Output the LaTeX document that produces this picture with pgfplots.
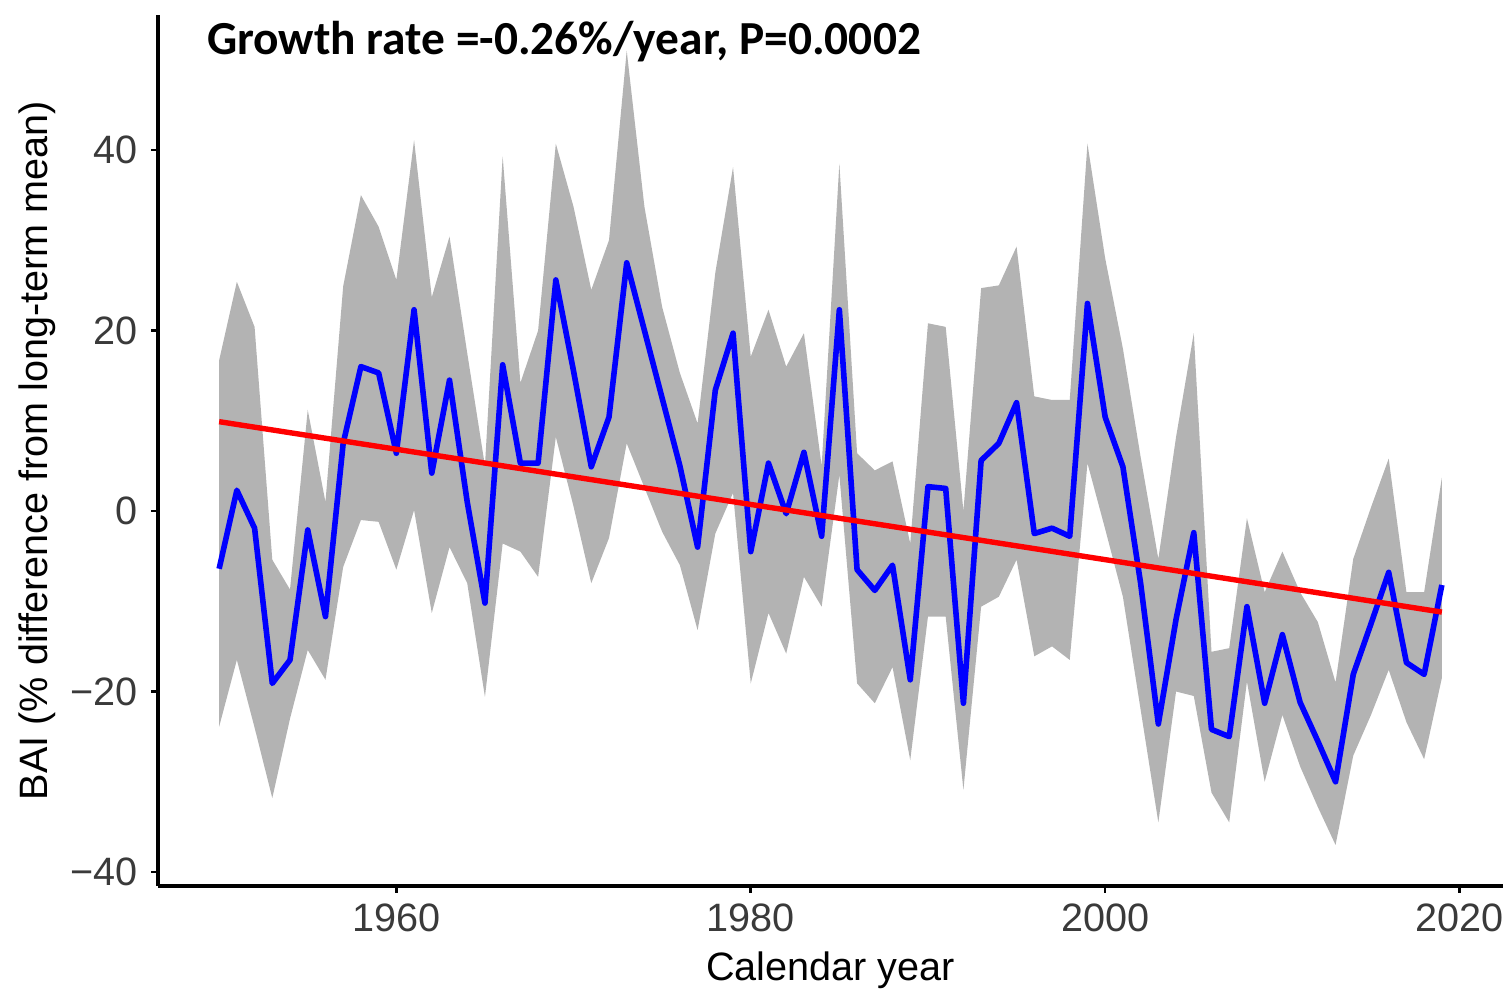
\documentclass[border=0pt]{standalone}
\usepackage{fontspec}
\setmainfont{Liberation Sans}
\newfontfamily\titlefont{Carlito}
\usepackage{pgfplots}
\usepackage{pgfplotstable}
\pgfplotsset{compat=1.18}
\usepgfplotslibrary{fillbetween}
\definecolor{band}{HTML}{B3B3B3}
\definecolor{ticklab}{HTML}{3A3A3A}

\pgfplotstableread{
year mid lo hi
1950 -6.4 -23.9 16.7
1951 2.3 -16.5 25.4
1952 -1.9 -24.0 20.4
1953 -19.1 -31.8 -5.4
1954 -16.5 -23.0 -8.7
1955 -2.1 -15.4 11.2
1956 -11.7 -18.7 1.0
1957 7.5 -6.2 24.9
1958 16.0 -1.0 35.0
1959 15.3 -1.2 31.5
1960 6.4 -6.5 25.6
1961 22.3 0.1 41.1
1962 4.2 -11.3 23.7
1963 14.5 -4.0 30.4
1964 1.0 -8.0 17.5
1965 -10.2 -20.6 5.0
1966 16.2 -3.6 39.3
1967 5.3 -4.5 14.2
1968 5.3 -7.3 20.0
1969 25.6 8.2 40.7
1970 15.5 0.5 33.7
1971 4.9 -8.0 24.5
1972 10.4 -3.0 30.0
1973 27.5 7.5 51.0
1974 20.0 2.6 33.7
1975 12.5 -2.3 22.6
1976 5.0 -6.0 15.3
1977 -4.0 -13.2 9.7
1978 13.4 -2.5 26.4
1979 19.7 2.0 38.1
1980 -4.5 -19.1 17.1
1981 5.3 -11.3 22.3
1982 -0.3 -15.8 16.0
1983 6.5 -7.3 19.7
1984 -2.8 -10.6 5.0
1985 22.3 4.0 38.5
1986 -6.5 -19.1 6.4
1987 -8.8 -21.3 4.5
1988 -6.0 -17.3 5.5
1989 -18.7 -27.6 -3.6
1990 2.7 -11.7 20.8
1991 2.5 -11.7 20.4
1992 -21.3 -30.9 0.0
1993 5.6 -10.6 24.7
1994 7.5 -9.5 25.0
1995 12.0 -5.4 29.3
1996 -2.5 -16.1 12.7
1997 -1.9 -15.0 12.3
1998 -2.8 -16.5 12.3
1999 23.0 5.3 40.7
2000 10.4 -2.0 28.0
2001 4.9 -9.5 18.0
2002 -8.0 -22.0 6.0
2003 -23.6 -34.5 -5.3
2004 -12.0 -20.0 8.2
2005 -2.4 -20.5 19.7
2006 -24.2 -31.2 -15.6
2007 -25.0 -34.5 -15.2
2008 -10.6 -18.9 -0.8
2009 -21.3 -30.0 -9.0
2010 -13.7 -22.6 -4.5
2011 -21.2 -28.3 -9.0
2012 -25.5 -32.8 -12.3
2013 -30.0 -37.0 -19.0
2014 -18.1 -27.1 -5.3
2015 -12.5 -22.6 0.4
2016 -6.8 -17.6 5.8
2017 -16.8 -23.4 -9.0
2018 -18.1 -27.5 -9.0
2019 -8.2 -18.5 3.7
}\bai

\begin{document}
\begin{tikzpicture}
\begin{axis}[
  at={(79pt,52pt)}, anchor=south west,
  scale only axis, width=672.5pt, height=435.5pt,
  xmin=1946.55, xmax=2022.45, ymin=-41.55, ymax=54.96,
  axis x line*=bottom, axis y line*=left,
  axis line style={line width=2pt, black},
  xtick={1960,1980,2000,2020}, xticklabels={1960,1980,2000,2020},
  ytick={-40,-20,0,20,40}, yticklabels={−40,−20,0,20,40},
  tick align=outside, major tick length=3.5pt,
  tick style={black, line width=1.3pt},
  ticklabel style={font=\fontsize{19.8}{23}\selectfont, text=ticklab},
  xticklabel style={yshift=-2pt},
  yticklabel style={xshift=-3pt},
  xlabel={Calendar year},
  ylabel={BAI (\% difference from long-term mean)},
  label style={font=\fontsize{19.8}{23}\selectfont, text=black},
  xlabel style={at={(axis description cs:0.5,-0.0964)}, anchor=center},
  ylabel style={at={(axis description cs:-0.09,0.5)}, anchor=center},
  clip=false,
]
\addplot[name path=up, draw=none] table[x=year, y=hi] {\bai};
\addplot[name path=dn, draw=none] table[x=year, y=lo] {\bai};
\addplot[fill=band, draw=none] fill between[of=up and dn];
\addplot[blue, line width=2.8pt, line join=round] table[x=year, y=mid] {\bai};
\addplot[red, line width=2.7pt] coordinates {(1950,9.9) (2019,-11.2)};
\node[anchor=west, font=\titlefont\bfseries\fontsize{23.7}{28}\selectfont]
  at (axis description cs:0.0312,0.969) {Growth rate =-0.26\%/year, P=0.0002};
\end{axis}
\pgfresetboundingbox
\path (0,0) rectangle (755.5pt,495pt);
\end{tikzpicture}
\end{document}
